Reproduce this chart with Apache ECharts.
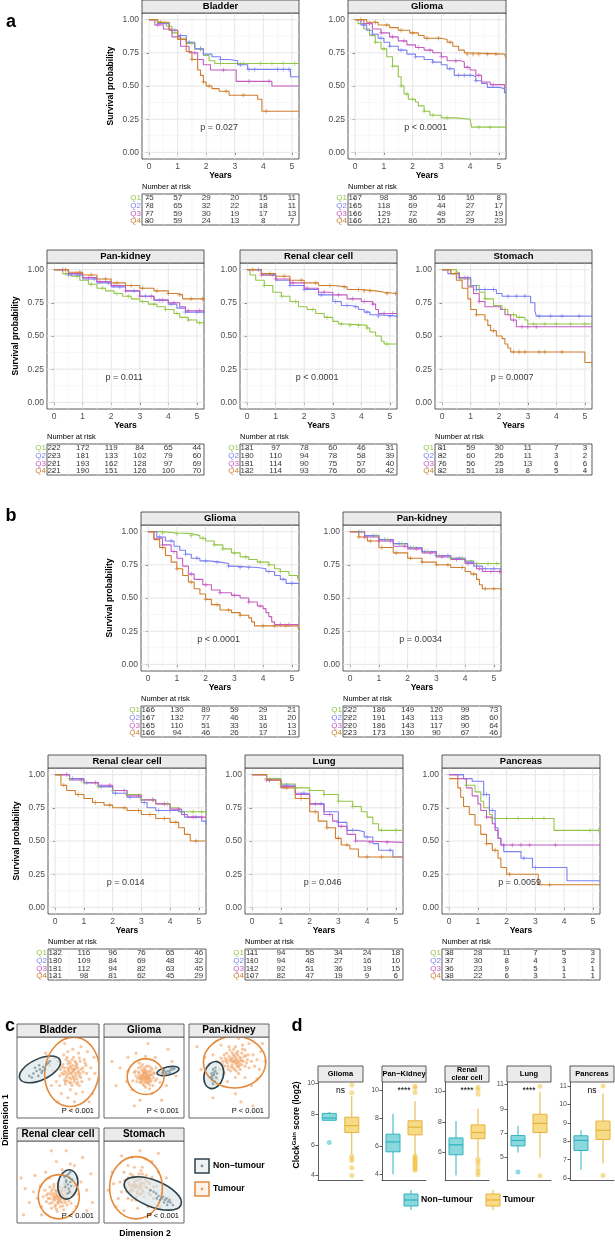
<!DOCTYPE html>
<html><head><meta charset="utf-8">
<script src="https://cdn.jsdelivr.net/npm/echarts@6/dist/echarts.min.js"></script>
<style>html,body{margin:0;padding:0;background:#fff}#c{width:615px;height:1240px}</style>
</head><body><div id="c"></div>
<script>
// ---------------- DATA ----------------
const groups = ['Q1','Q2','Q3','Q4'];
const kmYears = [0,1,2,3,4,5];
const kmXMinor = [0.5,1.5,2.5,3.5,4.5];
const kmYTicks = [0,0.25,0.5,0.75,1];
const kmYMinor = [0.125,0.375,0.625,0.875];

// Panel a
const bladderA_km = [
 [[0,1],[0.3,0.98],[0.6,0.95],[0.8,0.9],[1.0,0.86],[1.3,0.82],[1.6,0.78],[1.9,0.73],[2.1,0.69],[2.3,0.67],[5.25,0.67]],
 [[0,1],[0.3,0.97],[0.7,0.92],[1.0,0.88],[1.3,0.83],[1.6,0.78],[1.9,0.74],[2.2,0.72],[2.5,0.70],[2.8,0.69],[3.1,0.66],[3.45,0.625],[4.95,0.57],[5.25,0.57]],
 [[0,1],[0.2,0.96],[0.5,0.93],[0.8,0.87],[1.1,0.8],[1.4,0.75],[1.7,0.7],[1.9,0.66],[2.15,0.62],[3.05,0.535],[4.3,0.5],[5.25,0.5]],
 [[0,1],[0.3,0.98],[0.7,0.92],[1.0,0.85],[1.3,0.76],[1.5,0.7],[1.7,0.62],[1.8,0.58],[1.9,0.53],[2.0,0.5],[2.2,0.48],[2.45,0.46],[2.8,0.43],[3.8,0.40],[3.95,0.31],[5.25,0.31]]];
const bladderA_censor = [[0.3,1.5,1.8,2.5,3.3,3.9,4.3,4.7,5.1],[0.9,1.1,1.4,1.8,2.5,3.2,3.5,3.7,4.5,4.7,4.9],[0.3,1.6,2.6,3.5,4.2],[0.4,1.5,1.9,2.1,2.7,3.3,4.1]];
const bladderA_risk = [[75,57,29,20,15,11],[78,65,32,22,18,11],[77,59,30,19,17,13],[80,59,24,13,8,7]];

const gliomaA_km = [
 [[0,1],[0.1,0.97],[0.3,0.93],[0.5,0.88],[0.7,0.83],[0.9,0.78],[1.1,0.72],[1.3,0.65],[1.5,0.57],[1.6,0.5],[1.7,0.44],[1.85,0.4],[2.1,0.38],[2.2,0.35],[2.4,0.31],[2.6,0.28],[3.0,0.26],[3.5,0.25],[4.0,0.24],[4.05,0.19],[5.25,0.19]],
 [[0,1],[0.2,0.96],[0.4,0.92],[0.6,0.89],[0.8,0.86],[1.0,0.83],[1.2,0.8],[1.5,0.77],[1.8,0.74],[2.1,0.72],[2.4,0.7],[2.7,0.68],[3.0,0.66],[3.2,0.63],[3.45,0.58],[4.1,0.57],[4.2,0.54],[4.4,0.52],[4.6,0.49],[5.0,0.48],[5.2,0.45],[5.25,0.45]],
 [[0,1],[0.3,0.97],[0.6,0.93],[0.9,0.9],[1.2,0.87],[1.5,0.84],[1.8,0.81],[2.1,0.79],[2.4,0.77],[2.7,0.75],[3.0,0.72],[3.2,0.69],[3.7,0.68],[3.8,0.64],[4.0,0.62],[4.2,0.58],[4.4,0.53],[4.7,0.51],[5.2,0.49],[5.25,0.49]],
 [[0,1],[0.4,0.98],[0.8,0.96],[1.2,0.94],[1.5,0.92],[1.9,0.9],[2.2,0.88],[2.4,0.86],[3.0,0.85],[3.2,0.83],[3.4,0.8],[3.6,0.77],[3.8,0.75],[3.9,0.74],[5.2,0.74],[5.25,0.71]]];
const gliomaA_censor = [[0.7,1.0,1.3,1.6,1.8,2.0,2.4,2.7,3.2,4.3,4.7],[0.3,0.6,0.9,1.2,1.6,2.1,2.7,3.3,3.6,3.8,4.0,4.2],[0.5,0.9,1.3,1.7,2.2,2.6,3.0,3.5,3.9,4.3,4.8],[0.2,0.7,1.1,1.6,2.0,2.5,2.9,3.3,3.9,4.1,4.3,4.6,4.9]];
const gliomaA_risk = [[167,98,36,16,10,8],[165,118,69,44,27,17],[166,129,72,49,27,19],[166,121,86,55,29,23]];

const pankidneyA_km = [
 [[0,1],[0.3,0.97],[0.6,0.95],[0.9,0.92],[1.2,0.89],[1.5,0.86],[1.8,0.84],[2.1,0.82],[2.4,0.8],[2.7,0.78],[3.0,0.76],[3.3,0.74],[3.6,0.72],[3.9,0.7],[4.2,0.67],[4.4,0.64],[4.7,0.62],[5.0,0.6],[5.25,0.59]],
 [[0,1],[0.5,0.96],[1,0.93],[1.5,0.9],[2,0.87],[2.5,0.84],[3,0.8],[3.5,0.77],[4,0.74],[4.3,0.71],[4.6,0.68],[5.25,0.67]],
 [[0,1],[0.5,0.97],[1,0.94],[1.5,0.91],[2,0.88],[2.5,0.84],[3,0.8],[3.5,0.77],[4,0.75],[4.4,0.72],[4.6,0.69],[5.25,0.68]],
 [[0,1],[0.5,0.98],[1,0.96],[1.5,0.93],[2,0.9],[2.5,0.88],[3,0.86],[3.5,0.84],[4,0.82],[4.3,0.81],[4.5,0.78],[5.25,0.77]]];
const pankidneyA_censor = [[0.4,0.8,1.3,1.7,2.2,2.6,3.1,3.5,3.9,4.3,4.7,5.1],[0.5,0.9,1.4,1.9,2.3,2.8,3.2,3.7,4.1,4.6,5.0],[0.3,0.8,1.2,1.6,2.1,2.5,3.0,3.4,3.8,4.2,4.7,5.1],[0.4,0.9,1.3,1.8,2.2,2.7,3.1,3.6,4.0,4.4,4.8,5.2]];
const pankidneyA_risk = [[222,172,119,84,65,44],[223,181,133,102,79,60],[221,193,162,128,97,69],[221,190,151,126,100,70]];

const renalA_km = [
 [[0,1],[0.1,0.96],[0.3,0.92],[0.6,0.88],[0.9,0.83],[1.2,0.8],[1.5,0.76],[1.8,0.72],[2.1,0.7],[2.4,0.67],[2.7,0.64],[3.0,0.61],[3.2,0.59],[3.5,0.58],[4.2,0.56],[4.3,0.53],[4.5,0.5],[4.7,0.46],[4.8,0.44],[5.25,0.44]],
 [[0,1],[0.5,0.96],[1,0.92],[1.5,0.88],[2,0.85],[2.5,0.81],[3,0.76],[3.3,0.73],[3.6,0.72],[3.9,0.7],[4.1,0.68],[4.3,0.66],[4.6,0.65],[5.25,0.64]],
 [[0,1],[0.5,0.96],[1,0.93],[1.5,0.9],[2,0.86],[2.5,0.83],[3,0.81],[3.5,0.78],[4,0.76],[4.4,0.74],[4.5,0.7],[4.6,0.67],[5.25,0.67]],
 [[0,1],[0.5,0.97],[1,0.95],[1.5,0.92],[2,0.9],[2.5,0.88],[3,0.87],[3.5,0.85],[4,0.84],[4.5,0.83],[4.8,0.82],[5.25,0.82]]];
const renalA_censor = [[0.6,1.2,1.7,2.3,2.8,3.3,3.6,3.9,4.2,4.9],[0.4,0.9,1.5,2.0,2.6,3.1,3.5,3.8,4.2,4.6,5.0],[0.5,1.0,1.6,2.1,2.7,3.2,3.7,4.1,4.4,4.8,5.1],[0.2,0.8,1.3,1.9,2.4,2.9,3.4,3.9,4.1,4.3,4.9,5.2]];
const renalA_risk = [[131,97,78,60,46,31],[130,110,94,78,58,39],[131,114,90,75,57,40],[132,114,93,76,60,42]];

const stomachA_km = [
 [[0,1],[0.5,0.98],[0.6,0.93],[1,0.88],[1.3,0.83],[1.5,0.78],[1.8,0.73],[2.1,0.7],[2.3,0.66],[2.6,0.64],[2.9,0.62],[3.0,0.59],[5.25,0.59]],
 [[0,1],[0.2,0.97],[0.6,0.94],[1.0,0.88],[1.2,0.85],[1.9,0.82],[2.1,0.8],[3.0,0.8],[3.1,0.75],[3.25,0.69],[3.3,0.65],[5.25,0.65]],
 [[0,1],[0.3,0.97],[0.6,0.94],[0.9,0.87],[1.1,0.82],[1.3,0.76],[1.5,0.72],[2.05,0.7],[2.2,0.66],[2.4,0.62],[2.6,0.57],[5.25,0.57]],
 [[0,1],[0.3,0.97],[0.5,0.92],[0.7,0.86],[0.9,0.78],[1.0,0.7],[1.2,0.66],[1.5,0.62],[1.6,0.58],[1.7,0.54],[1.9,0.5],[2.1,0.48],[2.2,0.44],[2.3,0.41],[2.4,0.38],[5.0,0.3],[5.25,0.3]]];
const stomachA_censor = [[0.5,1.0,1.5,2.2,2.5,2.7,3.2,3.6,4.0,4.5,5.0],[0.6,0.9,1.2,1.5,1.8,2.3,2.6,2.9,3.4,3.8,4.2,4.8],[0.8,1.3,2.5,2.8,3.0,3.3],[1.2,1.8,2.5,2.7,2.9,3.4,3.6,4.2]];
const stomachA_risk = [[81,59,30,11,7,3],[82,60,26,11,3,2],[76,56,25,13,6,6],[82,51,18,8,5,4]];

// Panel b
const gliomaB_km = [
 [[0,1],[0.5,0.99],[1,0.985],[1.5,0.97],[1.8,0.95],[2.0,0.93],[2.3,0.9],[2.6,0.87],[2.9,0.84],[3.2,0.81],[3.5,0.79],[3.8,0.77],[4.2,0.75],[4.4,0.72],[4.6,0.7],[4.9,0.67],[5.2,0.65],[5.25,0.63]],
 [[0,1],[0.3,0.96],[0.6,0.93],[0.9,0.89],[1.1,0.86],[1.3,0.83],[1.5,0.8],[1.8,0.78],[2.1,0.77],[2.5,0.76],[2.8,0.74],[3.0,0.73],[3.8,0.72],[4.1,0.7],[4.4,0.67],[4.6,0.64],[4.8,0.61],[5.25,0.61]],
 [[0,1],[0.2,0.95],[0.5,0.9],[0.8,0.85],[1.0,0.8],[1.2,0.74],[1.4,0.68],[1.6,0.64],[1.9,0.6],[2.2,0.56],[2.5,0.54],[2.9,0.52],[3.2,0.5],[3.5,0.47],[3.8,0.44],[4.0,0.42],[4.1,0.39],[4.2,0.36],[4.3,0.32],[4.4,0.3],[5.25,0.3]],
 [[0,1],[0.2,0.94],[0.4,0.88],[0.6,0.82],[0.8,0.77],[1.0,0.72],[1.2,0.67],[1.4,0.62],[1.6,0.57],[1.8,0.53],[2.0,0.49],[2.2,0.45],[2.5,0.41],[2.9,0.39],[3.2,0.37],[3.5,0.35],[3.6,0.32],[3.7,0.29],[5.2,0.29],[5.25,0.26]]];
const gliomaB_censor = [[0.5,1.0,1.5,1.9,2.3,2.6,3.0,3.4,3.9,4.2,4.6],[0.4,0.8,1.3,1.7,2.0,2.4,2.8,3.2,3.5,4.2,4.7,5.0],[0.5,0.9,1.5,2.0,2.5,3.0,3.5,3.9,4.6,4.9],[0.5,1.0,1.5,2.0,2.4,2.8,3.2,4.0,4.4,4.8]];
const gliomaB_risk = [[166,130,89,59,29,21],[167,132,77,46,31,20],[165,110,51,33,16,13],[166,94,46,26,17,13]];

const pankidneyB_km = [
 [[0,1],[0.5,0.97],[1,0.94],[1.5,0.91],[2,0.88],[2.5,0.85],[3,0.82],[3.5,0.8],[4,0.78],[4.3,0.76],[5.25,0.75]],
 [[0,1],[0.5,0.97],[1,0.94],[1.5,0.91],[2,0.88],[2.5,0.85],[3,0.82],[3.5,0.8],[4,0.77],[4.3,0.74],[4.6,0.72],[5.25,0.71]],
 [[0,1],[0.5,0.96],[1,0.93],[1.5,0.89],[2,0.87],[2.5,0.84],[3,0.81],[3.5,0.79],[4,0.76],[4.4,0.72],[4.6,0.7],[5.25,0.69]],
 [[0,1],[0.3,0.96],[0.6,0.93],[1,0.88],[1.5,0.84],[2,0.8],[2.5,0.77],[3,0.75],[3.5,0.73],[4,0.7],[4.2,0.68],[4.4,0.64],[4.5,0.6],[4.6,0.57],[5.25,0.56]]];
const pankidneyB_censor = [[0.4,0.9,1.3,1.8,2.2,2.7,3.1,3.5,3.9,4.4,4.8,5.1],[0.3,0.8,1.2,1.7,2.1,2.6,3.0,3.4,3.8,4.2,4.7,5.0],[0.5,1.0,1.4,1.9,2.3,2.8,3.2,3.7,4.1,4.5,4.9,5.2],[0.3,0.7,1.1,1.6,2.1,2.5,3.0,3.4,3.9,4.3,4.7,5.0]];
const pankidneyB_risk = [[222,186,149,120,99,73],[222,191,143,113,85,60],[220,186,143,117,90,64],[223,173,130,90,67,46]];

const renalB_km = [
 [[0,1],[0.5,0.97],[1,0.94],[1.5,0.91],[2,0.88],[2.5,0.85],[3,0.81],[3.5,0.78],[4,0.75],[4.3,0.72],[5.25,0.71]],
 [[0,1],[0.5,0.97],[1,0.94],[1.5,0.91],[2,0.86],[2.5,0.83],[3,0.79],[3.2,0.75],[3.5,0.73],[4.2,0.72],[4.5,0.68],[5.1,0.65],[5.25,0.62]],
 [[0,1],[0.5,0.96],[1,0.94],[1.5,0.92],[2,0.88],[2.5,0.84],[3,0.81],[3.5,0.78],[4,0.74],[4.4,0.7],[4.6,0.68],[5.25,0.68]],
 [[0,1],[0.2,0.92],[0.4,0.88],[0.7,0.85],[1,0.82],[1.3,0.79],[1.7,0.77],[2,0.75],[2.5,0.73],[3,0.7],[3.5,0.67],[4,0.64],[4.3,0.6],[4.5,0.55],[4.7,0.5],[5.25,0.5]]];
const renalB_censor = [[0.5,1.0,1.5,2.0,2.5,3.0,3.4,3.9,4.4,4.8,5.1],[0.6,1.1,1.6,2.1,2.6,3.1,3.6,4.0,4.4,4.9],[0.4,0.9,1.4,1.9,2.4,2.9,3.4,3.8,4.3,4.8,5.1],[0.3,0.8,1.4,1.9,2.4,2.9,3.3,3.8,4.2,4.9]];
const renalB_risk = [[132,116,96,76,65,46],[130,109,84,69,48,32],[131,112,94,82,63,45],[131,98,81,62,45,29]];

const lungB_km = [
 [[0,1],[0.5,0.97],[1,0.93],[1.5,0.9],[2,0.88],[2.5,0.85],[3,0.8],[3.5,0.76],[3.8,0.72],[4.0,0.68],[4.2,0.63],[4.4,0.58],[5.25,0.58]],
 [[0,1],[0.5,0.96],[1,0.92],[1.5,0.86],[2,0.78],[2.5,0.72],[3,0.64],[3.3,0.58],[3.7,0.57],[3.9,0.53],[4.2,0.48],[4.4,0.43],[4.9,0.38],[5.25,0.38]],
 [[0,1],[0.5,0.96],[1,0.91],[1.5,0.85],[2,0.78],[2.5,0.7],[2.8,0.65],[3.0,0.61],[3.3,0.55],[3.6,0.5],[3.9,0.49],[5.25,0.49]],
 [[0,1],[0.5,0.96],[1,0.9],[1.5,0.82],[2,0.72],[2.3,0.65],[2.6,0.6],[2.9,0.52],[3.1,0.47],[3.4,0.44],[3.7,0.38],[5.25,0.38]]];
const lungB_censor = [[0.5,1.0,1.5,2.0,2.5,3.0,3.5,4.5,5.0],[0.6,1.2,1.8,2.4,3.0,3.5,4.0,4.8],[0.5,1.1,1.7,2.2,2.7,3.1,3.6,4.1,4.7],[0.6,1.2,1.7,2.2,2.6,3.0,3.3,4.0,4.5]];
const lungB_risk = [[111,94,55,34,24,18],[110,94,48,27,16,10],[112,92,51,36,19,15],[107,82,47,19,9,6]];

const pancreasB_km = [
 [[0,1],[0.5,0.97],[0.6,0.92],[0.9,0.87],[1.1,0.8],[1.2,0.75],[1.4,0.7],[1.5,0.67],[3.65,0.58],[5.25,0.58]],
 [[0,1],[0.5,0.97],[0.8,0.95],[1.2,0.85],[1.4,0.73],[1.6,0.6],[1.7,0.52],[1.8,0.47],[1.9,0.42],[2.5,0.37],[2.9,0.3],[4.1,0.2],[5.25,0.2]],
 [[0,1],[0.3,0.97],[0.6,0.9],[0.8,0.84],[1.0,0.78],[1.1,0.73],[1.3,0.68],[1.5,0.63],[1.6,0.58],[1.7,0.52],[1.8,0.47],[5.25,0.47]],
 [[0,0.97],[0.3,0.9],[0.4,0.83],[0.5,0.76],[0.7,0.7],[0.9,0.62],[1.1,0.55],[1.3,0.48],[1.5,0.43],[1.7,0.37],[1.8,0.3],[2.0,0.25],[3.1,0.17],[5.25,0.17]]];
const pancreasB_censor = [[0.6,1.5,2.0,2.4,2.9,3.3,4.9,5.2],[1.2,1.3,1.5,2.6,3.0],[1.3,1.9,2.2,2.5,2.8,3.7],[1.3,1.6,2.1,3.5]];
const pancreasB_risk = [[38,28,11,7,5,3],[37,30,8,4,3,2],[36,23,9,5,1,1],[38,22,6,3,1,1]];

// Panel c: points in panel-local units (0-100), ellipses [cx, cy, rx, ry, angleDeg]
const bladderTumourPts = [[67,57],[70,60],[64,55],[72,52],[62,62],[68,65],[75,58],[60,50],[66,48],[73,66],[58,58],[78,50],[55,63],[70,45],[63,70],[80,62],[52,52],[69,75],[76,40],[59,42],[85,55],[50,70],[65,35],[72,30],[57,78],[82,72],[48,45],[88,48],[62,25],[75,80],[44,58],[90,62],[54,30],[68,85],[80,32],[46,75],[66,62],[71,55],[63,58],[69,50],[74,62],[61,53],[65,68],[77,55],[58,47],[71,70],[67,40],[56,66],[79,45],[73,48],[64,44],[60,72],[84,65],[52,40],[76,74],[62,82],[70,20],[95,55],[40,65],[58,92],[86,82],[42,40],[66,10],[92,30],[35,80],[78,88],[50,20],[60,98],[94,75],[88,20],[68,60],[72,64],[61,46],[74,44],[57,54],
 [66,55],[69,58],[71,61],[63,60],[68,52],[74,56],[65,64],[60,56],[72,68],[78,60],[58,62],[70,48],[64,50],[76,52],[62,67],[81,57],[55,55],[67,72],[73,42],[59,45],[83,68],[53,60],[77,70],[66,43],[61,75]];
const bladderNormalPts = [[20,55],[24,58],[28,60],[32,63],[36,66],[22,62],[30,56],[26,52],[34,60],[18,50],[38,68],[27,65],[31,58],[15,52],[40,70]];
const bladderTumourEll = [67,57,33,43,-8];
const bladderNormalEll = [28,60,27,13,25];

const gliomaTumourPts = [[52,51],[50,53],[55,49],[48,48],[54,55],[57,52],[46,52],[51,46],[53,58],[59,47],[44,55],[49,42],[58,57],[47,59],[62,50],[42,49],[55,43],[50,62],[60,60],[45,44],[63,55],[40,52],[52,38],[56,64],[66,48],[38,56],[48,66],[61,40],[43,62],[68,56],[53,52],[51,49],[49,55],[56,50],[54,47],[47,50],[50,57],[58,54],[45,48],[52,44],[65,62],[36,46],[57,36],[44,68],[70,44],[30,58],[52,76],[74,60],[35,35],[60,30],[28,45],[78,40],[40,80],[64,75],[20,62],[85,70],[45,22],[72,22],[15,40],[90,52],[55,92],[30,75],[80,85],[38,15],[10,70],[54,50],[49,51],[51,55],[56,46],[47,46],
 [53,49],[50,48],[48,53],[55,53],[52,56],[57,49],[46,49],[49,58],[54,44],[44,51],[60,53],[51,60],[58,45],[43,57],[47,44],[62,56],[56,58],[41,45],[59,62],[50,40],[64,46],[39,58],[46,63],[57,41],[53,64]];
const gliomaNormalPts = [[73,56],[77,57],[80,58],[83,59],[86,60],[75,59],[82,56],[88,61],[78,55],[84,62]];
const gliomaTumourEll = [52,51,23,22,0];
const gliomaNormalEll = [80,58,14,5,12];

const pankidneyTumourPts = [[57,69],[60,72],[54,66],[63,68],[58,75],[51,72],[65,74],[55,62],[62,63],[48,68],[68,70],[59,80],[45,74],[70,64],[52,58],[66,80],[42,66],[73,72],[56,85],[47,80],[75,62],[40,74],[62,55],[78,70],[50,88],[70,84],[38,60],[80,78],[58,50],[44,56],[82,64],[35,70],[67,90],[30,78],[85,72],[60,64],[56,70],[64,71],[53,74],[61,78],[49,64],[66,66],[57,60],[71,77],[46,70],[59,67],[55,78],[88,60],[25,66],[75,92],[40,90],[90,82],[70,50],[20,75],[62,98],[95,70],[48,45],[85,48],[15,60],[35,40],[78,40],[92,92],[58,30],[30,25],[80,15],[65,20],[10,88],[30,50],[33,55],[28,45],[35,48],[61,70],[54,73],
 [58,72],[55,70],[60,68],[52,70],[63,75],[57,77],[50,76],[66,71],[61,82],[54,81],[47,72],[69,76],[64,60],[53,63],[59,58],[44,78],[72,68],[49,60],[67,85],[58,88],[42,70],[74,78],[63,65],[51,84],[45,64]];
const pankidneyNormalPts = [[31,53],[29,48],[33,58],[30,60],[32,45],[28,55],[34,50],[30,42],[27,50],[33,62],[31,56],[29,52],[35,55]];
const pankidneyTumourEll = [57,69,39,32,0];
const pankidneyNormalEll = [31,53,12,17,-15];

const renalTumourPts = [[51,32],[48,35],[54,30],[46,28],[52,38],[56,34],[44,33],[50,26],[58,28],[42,38],[55,42],[47,22],[60,36],[40,30],[53,20],[62,30],[45,44],[38,36],[57,16],[64,40],[36,26],[50,48],[66,24],[34,40],[49,14],[42,18],[68,34],[58,48],[32,32],[47,40],[53,35],[49,30],[55,25],[45,36],[51,28],[59,40],[43,25],[57,31],[40,44],[61,22],[30,20],[70,45],[28,45],[72,20],[40,55],[62,58],[25,30],[75,35],[20,38],[78,50],[55,65],[35,62],[85,40],[15,25],[48,75],[70,70],[90,60],[22,58],[10,42],[60,88],[42,88],[80,80],[92,25],[8,10],[30,10],[85,15],[65,72],[5,55],[52,33],[47,31],
 [49,33],[52,29],[46,32],[54,36],[50,24],[44,29],[57,33],[48,38],[53,26],[41,35],[59,25],[46,20],[55,39],[43,41],[61,32],[38,30],[51,44],[48,17],[63,27],[36,34],[56,21],[40,24],[65,37],[45,47],[58,44]];
const renalNormalPts = [[62,47],[60,52],[64,55],[63,42],[65,50],[61,58],[66,45],[59,44],[63,60],[64,38],[60,50],[67,53],[62,36],[58,56],[65,62]];
const renalTumourEll = [51,32,25,27,0];
const renalNormalEll = [62,47,12,18,-10];

const stomachTumourPts = [[40,43],[45,47],[36,40],[48,40],[38,50],[42,36],[52,44],[32,46],[46,54],[34,34],[55,50],[28,42],[44,60],[50,32],[36,58],[58,40],[26,52],[40,28],[30,30],[60,56],[22,38],[48,68],[38,68],[62,30],[20,50],[55,20],[30,70],[66,45],[18,30],[42,18],[68,62],[25,62],[44,44],[39,47],[47,44],[35,45],[43,52],[50,48],[33,38],[41,38],[56,36],[46,36],[53,58],[30,55],[12,48],[72,36],[52,78],[25,15],[10,62],[70,20],[60,75],[35,80],[15,20],[78,55],[45,88],[5,40],[80,30],[58,10],[22,82],[68,85],
 [41,45],[44,41],[38,44],[47,49],[40,52],[36,47],[49,38],[43,56],[34,41],[52,52],[31,49],[45,35],[54,43],[37,55],[48,60],[29,38],[57,48],[40,32],[50,56],[33,60],[58,34],[26,45],[46,64],[62,44],[35,28]];
const stomachNormalPts = [[72,30],[76,28],[80,26],[68,33],[74,32],[78,30],[83,25],[65,36],[70,28],[86,22],[62,38],[75,25],[58,40],[66,30],[82,28],[79,22]];
const stomachTumourEll = [40,43,33,38,0];
const stomachNormalEll = [61,36,38,16,-22];

// Panel d: [category, min, q1, median, q3, max]; outliers [category, value]
const boxCategories = ['Non-tumour','Tumour'];
const gliomaBox = [[0,7.6,7.6,7.75,8.05,8.15],[1,5.4,6.8,7.25,7.8,9.2]];
const gliomaOut = [[0,6.15],[1,9.9],[1,9.4],[1,5.25],[1,5.1],[1,4.95],[1,4.5],[1,4.0]];
const pankidneyBox = [[0,4.0,5.6,6.3,6.85,8.3],[1,5.4,6.8,7.35,7.8,9.2]];
const pankidneyOut = [[1,10.25],[1,10.15],[1,9.8],[1,5.3],[1,5.2],[1,5.1],[1,5.0],[1,4.9],[1,4.8],[1,4.7],[1,4.6],[1,4.5],[1,4.4],[1,4.3]];
const renalBox = [[0,4.5,5.85,6.5,6.95,8.05],[1,5.7,6.9,7.3,7.8,8.85]];
const renalOut = [[1,10.25],[1,10.1],[1,9.8],[1,5.55],[1,5.4],[1,5.2],[1,4.9],[1,4.7],[1,4.55]];
const lungBox = [[0,5.4,5.95,6.4,6.8,7.6],[1,5.0,7.05,7.8,8.55,10.4]];
const lungOut = [[0,3.8],[1,10.85],[1,3.5]];
const pancreasBox = [[0,6.45,7.5,8.05,8.3,8.6],[1,6.8,8.1,8.6,9.1,10.6]];
const pancreasOut = [[1,11.0],[1,6.15]];

// ---------------- BUILD ----------------
const FONT = "'Liberation Sans', Arial, Helvetica, sans-serif";
const QCOL = ['#93c648','#7b7ff2','#c45cc2','#d07e2c'];
const PLUS = 'path://M5,0L5,10M0,5L10,5';
const grids=[], xAxes=[], yAxes=[], series=[], G=[];

function txt(x,y,text,o){ o=o||{}; const a=o.align||'center', va=o.va||'middle';
  G.push({type:'text', x:x, y:y, rotation:o.rot||0, z:50, silent:true,
    style:{text:text, fill:o.color||'#000', fontSize:o.size||8, fontWeight:o.bold?'bold':'normal', fontFamily:FONT,
      align:a, verticalAlign:va, textAlign:a, textVerticalAlign:va, rich:o.rich, lineHeight:o.lh}}); }
function rect(x,y,w,h,fill,stroke,lw){ G.push({type:'rect', z:40, silent:true, shape:{x:x,y:y,width:w,height:h}, style:{fill:fill, stroke:stroke, lineWidth:lw||0.8}}); }
function line(x1,y1,x2,y2,stroke,lw){ G.push({type:'line', z:45, silent:true, shape:{x1:x1,y1:y1,x2:x2,y2:y2}, style:{stroke:stroke, lineWidth:lw||1}}); }
function circ(cx,cy,r,fill){ G.push({type:'circle', z:45, silent:true, shape:{cx:cx,cy:cy,r:r}, style:{fill:fill}}); }

function survAt(curve,t){ let v=curve[0][1]; for(const p of curve){ if(p[0]<=t) v=p[1]; else break; } return v; }

function addGridLines(gi, xMaj, xMin, yMaj, yMin){
  const data=[];
  xMaj.forEach(v=>data.push([v,0,1])); xMin.forEach(v=>data.push([v,0,0]));
  yMaj.forEach(v=>data.push([v,1,1])); yMin.forEach(v=>data.push([v,1,0]));
  series.push({type:'custom', xAxisIndex:gi, yAxisIndex:gi, z:1, silent:true, data:data,
    renderItem:function(params, api){
      const cs=params.coordSys, v=api.value(0), o=api.value(1), m=api.value(2);
      let shape;
      if(o===0){ const x=api.coord([v,0])[0]; shape={x1:x,y1:cs.y,x2:x,y2:cs.y+cs.height}; }
      else { const y=api.coord([0,v])[1]; shape={x1:cs.x,y1:y,x2:cs.x+cs.width,y2:y}; }
      return {type:'line', shape:shape, style:{stroke:m?'#e3e3e3':'#f1f1f1', lineWidth:m?0.9:0.6}};
    }});
}

function addKM(P){
  const L=P.left, T=P.top, W=P.w, H=146, B=T+H;
  const gi=grids.length;
  grids.push({left:L, top:T, width:W, height:H, show:true, borderColor:'#333', borderWidth:0.8});
  xAxes.push({gridIndex:gi, type:'value', min:-0.25, max:5.25, axisLine:{show:false}, splitLine:{show:false},
    axisTick:{show:true, customValues:kmYears, length:2.5, lineStyle:{color:'#333', width:0.8}},
    axisLabel:{show:true, customValues:kmYears, fontSize:8.5, color:'#4d4d4d', margin:3, fontFamily:FONT}});
  yAxes.push({gridIndex:gi, type:'value', min:-0.05, max:1.05, axisLine:{show:false}, splitLine:{show:false},
    axisTick:{show:true, customValues:kmYTicks, length:2.5, lineStyle:{color:'#333', width:0.8}},
    axisLabel:{show:true, customValues:kmYTicks, fontSize:8.5, color:'#4d4d4d', margin:3, fontFamily:FONT, formatter:v=>v.toFixed(2)}});
  addGridLines(gi, kmYears, kmXMinor, kmYTicks, kmYMinor);
  P.km.forEach((curve,q)=>{
    series.push({type:'line', xAxisIndex:gi, yAxisIndex:gi, data:curve, step:'end', symbol:'none', showSymbol:false,
      lineStyle:{color:QCOL[q], width:1.1}, z:3, silent:true});
    series.push({type:'scatter', xAxisIndex:gi, yAxisIndex:gi, data:P.censor[q].map(t=>[t, survAt(curve,t)]),
      symbol:PLUS, symbolSize:4.5, itemStyle:{color:'none', borderColor:QCOL[q], borderWidth:0.8}, z:4, silent:true});
  });
  series.push({type:'scatter', xAxisIndex:gi, yAxisIndex:gi, data:[[2.45,0.19]], symbolSize:0, silent:true, z:5,
    label:{show:true, position:'inside', formatter:P.p, fontSize:9, color:'#000', fontFamily:FONT}});
  rect(L, T-13, W, 13, '#ebebeb', '#333', 0.8);
  txt(L+W/2, T-6.3, P.title, {bold:true, size:9.5});
  txt(L+W/2, B+17, 'Years', {bold:true, size:8.5});
  if(P.ylab) txt(L-31, T+H/2, 'Survival probability', {bold:true, size:8.5, rot:Math.PI/2});
  txt(L, B+28, 'Number at risk', {align:'left', size:7.5});
  const ti=grids.length;
  grids.push({left:L, top:B+35, width:W, height:31, show:true, borderColor:'#333', borderWidth:0.8});
  xAxes.push({gridIndex:ti, type:'value', min:-0.25, max:5.25, show:false});
  const rich={}; QCOL.forEach((c,i)=>{ rich['q'+i]={color:c, fontSize:8, fontFamily:FONT}; });
  yAxes.push({gridIndex:ti, type:'category', data:groups, inverse:true, axisLine:{show:false}, splitLine:{show:false},
    axisTick:{show:true, length:2, alignWithLabel:true, interval:0, lineStyle:{color:'#333', width:0.8}},
    axisLabel:{margin:1, interval:0, hideOverlap:false, fontSize:8, fontFamily:FONT, formatter:(v,i)=>'{q'+i+'|'+v+'}', rich:rich}});
  addGridLines(ti, kmYears, kmXMinor, [], []);
  const rd=[]; P.risk.forEach((row,q)=>row.forEach((n,k)=>rd.push([kmYears[k], q, n])));
  series.push({type:'scatter', xAxisIndex:ti, yAxisIndex:ti, data:rd, symbolSize:0, silent:true, z:5,
    label:{show:true, position:'inside', formatter:p=>String(p.value[2]), fontSize:8, color:'#000', fontFamily:FONT}});
}

[
 {title:'Bladder', km:bladderA_km, censor:bladderA_censor, risk:bladderA_risk, p:'p = 0.027', left:142, top:13, w:157, ylab:true},
 {title:'Glioma', km:gliomaA_km, censor:gliomaA_censor, risk:gliomaA_risk, p:'p < 0.0001', left:348, top:13, w:158},
 {title:'Pan-kidney', km:pankidneyA_km, censor:pankidneyA_censor, risk:pankidneyA_risk, p:'p = 0.011', left:47, top:263, w:157, ylab:true},
 {title:'Renal clear cell', km:renalA_km, censor:renalA_censor, risk:renalA_risk, p:'p < 0.0001', left:240, top:263, w:157},
 {title:'Stomach', km:stomachA_km, censor:stomachA_censor, risk:stomachA_risk, p:'p = 0.0007', left:435, top:263, w:157},
 {title:'Glioma', km:gliomaB_km, censor:gliomaB_censor, risk:gliomaB_risk, p:'p < 0.0001', left:141, top:525, w:158, ylab:true},
 {title:'Pan-kidney', km:pankidneyB_km, censor:pankidneyB_censor, risk:pankidneyB_risk, p:'p = 0.0034', left:343, top:525, w:158},
 {title:'Renal clear cell', km:renalB_km, censor:renalB_censor, risk:renalB_risk, p:'p = 0.014', left:48, top:768, w:158, ylab:true},
 {title:'Lung', km:lungB_km, censor:lungB_censor, risk:lungB_risk, p:'p = 0.046', left:245, top:768, w:158},
 {title:'Pancreas', km:pancreasB_km, censor:pancreasB_censor, risk:pancreasB_risk, p:'p = 0.0059', left:442, top:768, w:158}
].forEach(addKM);

// ---- panel c ----
function ellSeries(gi, ell, nt){
  series.push({type:'custom', xAxisIndex:gi, yAxisIndex:gi, z:nt?3:4, silent:true, clip:true, data:[ell],
    renderItem:function(params, api){
      const c=api.coord([api.value(0), api.value(1)]);
      const s=api.size([api.value(2), api.value(3)]);
      return {type:'ellipse', x:c[0], y:c[1], rotation:api.value(4)*Math.PI/180,
        shape:{cx:0, cy:0, rx:s[0], ry:s[1]},
        style:{fill:nt?'rgba(214,226,231,0.6)':'none', stroke:nt?'#2d434b':'#e5893a', lineWidth:1.6}};
    }});
}
function addScatterPanel(P){
  const gi=grids.length;
  grids.push({left:P.left, top:P.top, width:P.w, height:P.h, show:true, borderColor:'#555', borderWidth:0.9});
  xAxes.push({gridIndex:gi, type:'value', min:0, max:100, show:false});
  yAxes.push({gridIndex:gi, type:'value', min:0, max:100, show:false});
  series.push({type:'scatter', xAxisIndex:gi, yAxisIndex:gi, data:P.tum, symbolSize:3.2, silent:true, z:2,
    itemStyle:{color:'rgba(240,162,98,0.75)'}});
  ellSeries(gi, P.ntEll, true);
  series.push({type:'scatter', xAxisIndex:gi, yAxisIndex:gi, data:P.nt, symbolSize:2.6, silent:true, z:5,
    itemStyle:{color:'#7c939b'}});
  ellSeries(gi, P.tEll, false);
  rect(P.left, P.top-13, P.w, 13, '#ebebeb', '#555', 0.9);
  txt(P.left+P.w/2, P.top-6.3, P.title, {bold:true, size:10});
  txt(P.left+P.w-5, P.top+P.h-7, 'P < 0.001', {align:'right', size:7.5});
}
[
 {title:'Bladder', tum:bladderTumourPts, nt:bladderNormalPts, tEll:bladderTumourEll, ntEll:bladderNormalEll, left:17, top:1037, w:82, h:81},
 {title:'Glioma', tum:gliomaTumourPts, nt:gliomaNormalPts, tEll:gliomaTumourEll, ntEll:gliomaNormalEll, left:104, top:1037, w:80, h:81},
 {title:'Pan-kidney', tum:pankidneyTumourPts, nt:pankidneyNormalPts, tEll:pankidneyTumourEll, ntEll:pankidneyNormalEll, left:189, top:1037, w:80, h:81},
 {title:'Renal clear cell', tum:renalTumourPts, nt:renalNormalPts, tEll:renalTumourEll, ntEll:renalNormalEll, left:17, top:1141, w:82, h:82},
 {title:'Stomach', tum:stomachTumourPts, nt:stomachNormalPts, tEll:stomachTumourEll, ntEll:stomachNormalEll, left:104, top:1141, w:80, h:82}
].forEach(addScatterPanel);
txt(6, 1120, 'Dimension 1', {bold:true, size:8.7, rot:Math.PI/2});
txt(145, 1234, 'Dimension 2', {bold:true, size:8.7});
rect(195, 1159, 14, 14, '#eef2f3', '#2d434b', 1.5); circ(202, 1166, 1.4, '#7c939b');
txt(213, 1166, 'Non–tumour', {align:'left', bold:true, size:8.7});
rect(195, 1182, 14, 14, '#fdf3ea', '#e5893a', 1.5); circ(202, 1189, 1.4, '#f0a262');
txt(213, 1189, 'Tumour', {align:'left', bold:true, size:8.7});

// ---- panel d ----
const NTC={fill:'rgba(88,200,208,0.7)', stroke:'#2fb3bf'}, TC={fill:'rgba(245,207,95,0.75)', stroke:'#e4b33c'};
function addBoxPanel(P){
  const gi=grids.length, top=1082, H=98;
  grids.push({left:P.left, top:top, width:P.w, height:H, show:false});
  xAxes.push({gridIndex:gi, type:'category', data:boxCategories, axisLine:{show:true, lineStyle:{color:'#333', width:0.8}},
    axisTick:{show:false}, axisLabel:{show:false}, splitLine:{show:false}});
  yAxes.push({gridIndex:gi, type:'value', min:P.ymin, max:P.ymax, axisLine:{show:true, lineStyle:{color:'#333', width:0.8}},
    axisTick:{show:true, customValues:P.ticks, length:2.5, lineStyle:{color:'#333', width:0.8}},
    axisLabel:{show:true, customValues:P.ticks, fontSize:7, color:'#4d4d4d', margin:3, fontFamily:FONT}, splitLine:{show:false}});
  series.push({type:'custom', xAxisIndex:gi, yAxisIndex:gi, z:3, silent:true, data:P.box,
    renderItem:function(params, api){
      const cat=api.value(0), col=cat===0?NTC:TC, bw=14;
      const lo=api.coord([cat, api.value(1)]), q1=api.coord([cat, api.value(2)]), md=api.coord([cat, api.value(3)]),
            q3=api.coord([cat, api.value(4)]), hi=api.coord([cat, api.value(5)]);
      const x=lo[0];
      return {type:'group', children:[
        {type:'line', shape:{x1:x,y1:hi[1],x2:x,y2:q3[1]}, style:{stroke:col.stroke, lineWidth:1}},
        {type:'line', shape:{x1:x,y1:q1[1],x2:x,y2:lo[1]}, style:{stroke:col.stroke, lineWidth:1}},
        {type:'rect', shape:{x:x-bw/2, y:q3[1], width:bw, height:Math.max(1,q1[1]-q3[1])}, style:{fill:col.fill, stroke:col.stroke, lineWidth:1}},
        {type:'line', shape:{x1:x-bw/2,y1:md[1],x2:x+bw/2,y2:md[1]}, style:{stroke:col.stroke, lineWidth:1.2}}
      ]};
    }});
  series.push({type:'scatter', xAxisIndex:gi, yAxisIndex:gi, data:P.out, symbolSize:5, silent:true, z:4,
    itemStyle:{color:p=>p.value[0]===0?'rgba(70,195,205,0.75)':'rgba(240,196,70,0.7)'}});
  rect(P.left, 1066, P.w, 16, '#ebebeb', '#333', 0.8);
  if(P.title.indexOf('\n')>=0) txt(P.left+P.w/2, 1074, P.title, {bold:true, size:7.3, lh:7.5});
  else txt(P.left+P.w/2, 1074, P.title, {bold:true, size:7.5});
  txt(P.left+P.w/2, 1091, P.sig, {size:8.5});
}
[
 {title:'Glioma', box:gliomaBox, out:gliomaOut, sig:'ns', ymin:3.7, ymax:10.1, ticks:[4,6,8,10], left:318, w:45},
 {title:'Pan−Kidney', box:pankidneyBox, out:pankidneyOut, sig:'****', ymin:3.6, ymax:10.55, ticks:[4,6,8,10], left:382, w:44},
 {title:'Renal\nclear cell', box:renalBox, out:renalOut, sig:'****', ymin:4.2, ymax:10.6, ticks:[6,8,10], left:445, w:44},
 {title:'Lung', box:lungBox, out:lungOut, sig:'****', ymin:3.15, ymax:11.2, ticks:[5,7,9,11], left:507, w:44},
 {title:'Pancreas', box:pancreasBox, out:pancreasOut, sig:'ns', ymin:5.9, ymax:11.22, ticks:[6,7,8,9,10,11], left:570, w:44}
].forEach(addBoxPanel);
G.push({type:'text', x:297, y:1125, rotation:Math.PI/2, z:50, silent:true,
  style:{text:'{a|Clock}{b|Gain}{a| score (log2)}', align:'center', verticalAlign:'middle', textAlign:'center', textVerticalAlign:'middle',
    rich:{a:{fontSize:8.5, fontWeight:'bold', fontFamily:FONT, fill:'#000', color:'#000'}, b:{fontSize:6, fontWeight:'bold', fontFamily:FONT, fill:'#000', color:'#000', padding:[0,0,6,0]}}}});
function legendBox(x, col){
  line(x+7, 1190, x+7, 1194, col.stroke, 1); line(x+7, 1206, x+7, 1210, col.stroke, 1);
  rect(x, 1194, 14, 12, col.fill, col.stroke, 1); line(x, 1200, x+14, 1200, col.stroke, 1.2);
}
legendBox(404, NTC); txt(421, 1200, 'Non–tumour', {align:'left', bold:true, size:8.7});
legendBox(486, TC); txt(503, 1200, 'Tumour', {align:'left', bold:true, size:8.7});

txt(11, 22, 'a', {bold:true, size:18});
txt(11, 516, 'b', {bold:true, size:18});
txt(10, 1026, 'c', {bold:true, size:18});
txt(297, 1026, 'd', {bold:true, size:18});

const chart = echarts.init(document.getElementById('c'), null, {renderer:'canvas', width:615, height:1240});
chart.setOption({animation:false, backgroundColor:'#fff', textStyle:{fontFamily:FONT},
  grid:grids, xAxis:xAxes, yAxis:yAxes, series:series, graphic:{elements:G}});
</script></body></html>
